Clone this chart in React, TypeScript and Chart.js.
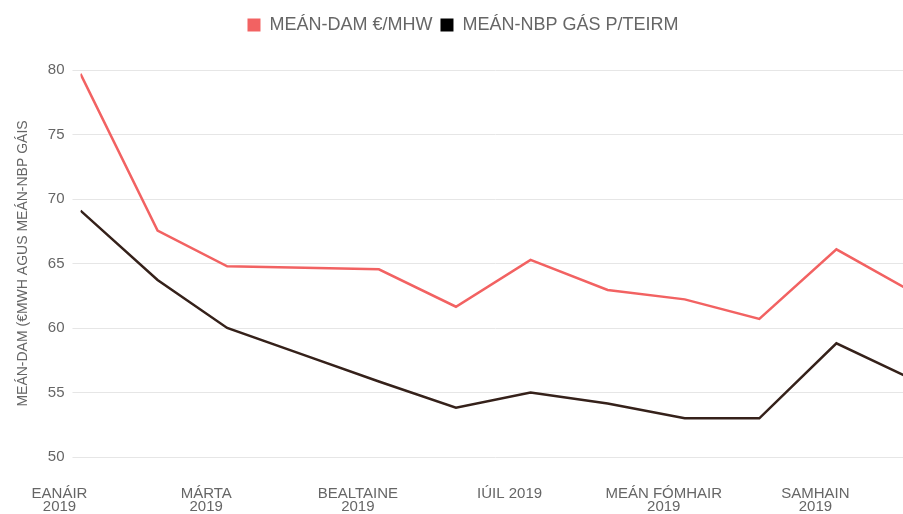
import React, { useEffect, useRef } from "react";
import { Chart, registerables } from "chart.js";

Chart.register(...registerables);

// Month start day-of-year (2019) for each data point
const monthNames = ["EANÁIR", "FEABHRA", "MÁRTA", "AIBREÁN", "BEALTAINE", "MEITHEAMH", "IÚIL", "LÚNASA", "MEÁN FÓMHAIR", "DEIREADH FÓMHAIR", "SAMHAIN", "NOLLAIG"];
const monthStartDay = [0, 31, 59, 90, 120, 151, 181, 212, 243, 273, 304, 334];

const damSeries = [79.7, 67.55, 64.78, 64.68, 64.55, 61.65, 65.28, 62.95, 62.22, 60.7, 66.1, 62.85];
const nbpSeries = [69.1, 63.72, 60.0, 57.9, 55.85, 53.82, 55.0, 54.15, 53.0, 53.0, 58.81, 56.08];

const tickMonths = [0, 2, 4, 6, 8, 10];
const tickLabels: (string | string[])[] = [["EANÁIR", "2019"], ["MÁRTA", "2019"], ["BEALTAINE", "2019"], "IÚIL 2019", ["MEÁN FÓMHAIR", "2019"], ["SAMHAIN", "2019"]];

const yTitle = "MEÁN-DAM (€MWH AGUS MEÁN-NBP GÁIS";
const seriesNames = ["MEÁN-DAM €/MHW", "MEÁN-NBP GÁS P/TEIRM"];

const legendGap = {
  id: "legendGap",
  beforeInit(chart: any) {
    const origFit = chart.legend.fit;
    chart.legend.fit = function () {
      origFit.call(this);
      this.height += 26;
    };
  },
};

export default function App() {
  const ref = useRef<HTMLCanvasElement | null>(null);
  useEffect(() => {
    if (!ref.current) return;
    const font = "'Liberation Sans', Arial, Helvetica, sans-serif";
    const chart = new Chart(ref.current, {
      type: "line",
      plugins: [legendGap],
      data: {
        datasets: [
          {
            label: seriesNames[0],
            data: damSeries.map((v, i) => ({ x: monthStartDay[i], y: v })),
            borderColor: "#f26262",
            backgroundColor: "#f26262",
            borderWidth: 2.5,
            pointRadius: 0,
            tension: 0,
          },
          {
            label: seriesNames[1],
            data: nbpSeries.map((v, i) => ({ x: monthStartDay[i], y: v })),
            borderColor: "#35211a",
            backgroundColor: "#000000",
            borderWidth: 2.5,
            pointRadius: 0,
            tension: 0,
          },
        ],
      },
      options: {
        animation: false,
        responsive: false,
        layout: { padding: { left: 7, right: 10, top: 0, bottom: 0 } },
        plugins: {
          legend: {
            position: "top",
            labels: {
              color: "#666666",
              font: { family: font, size: 18 },
              boxWidth: 13,
              boxHeight: 13,
              padding: 8,
              generateLabels: (c: any) => {
                const items = Chart.defaults.plugins.legend.labels.generateLabels(c);
                items.forEach((it: any) => {
                  it.lineWidth = 0;
                  it.strokeStyle = "rgba(0,0,0,0)";
                });
                return items;
              },
            },
          },
          tooltip: { enabled: false },
        },
        scales: {
          x: {
            type: "linear",
            min: monthStartDay[0],
            max: monthStartDay[11],
            grid: { display: false },
            border: { display: false },
            afterBuildTicks: (axis: any) => {
              axis.ticks = tickMonths.map((m) => ({ value: monthStartDay[m] }));
            },
            ticks: {
              autoSkip: false,
              maxRotation: 0,
              color: "#666666",
              labelOffset: -21,
              padding: 22,
              font: { family: font, size: 15, lineHeight: 0.9 },
              callback: (value: any) => {
                const idx = tickMonths.findIndex((m) => monthStartDay[m] === value);
                return idx >= 0 ? tickLabels[idx] : "";
              },
            },
          },
          y: {
            min: 50,
            max: 80,
            border: { display: false },
            grid: { color: "#e6e6e6", lineWidth: 1, tickLength: 8 },
            ticks: {
              stepSize: 5,
              color: "#666666",
              padding: 8,
              font: { family: font, size: 15 },
            },
            title: {
              display: true,
              text: yTitle,
              color: "#666666",
              font: { family: font, size: 14 },
              padding: { top: 0, bottom: 8 },
            },
          },
        },
      },
    } as any);
    return () => chart.destroy();
  }, []);
  return (
    <div style={{ position: "fixed", left: 0, top: 0, width: 903, height: 514, overflow: "hidden", background: "#fff" }}>
      <canvas ref={ref} width={913} height={528} style={{ position: "absolute", left: 8, top: 8, display: "block" }} />
    </div>
  );
}
